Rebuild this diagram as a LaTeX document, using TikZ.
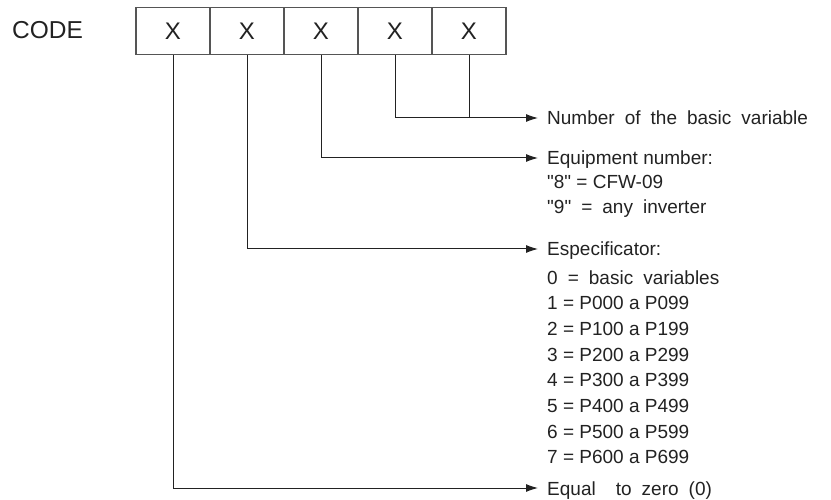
\documentclass[tikz,border=0pt]{standalone}
\usepackage{fontspec}
\setmainfont{Liberation Sans}
\newfontfamily\widesp[WordSpace=1.9]{Liberation Sans}
\newfontfamily\plainf[Scale=0.999]{Liberation Sans}
\usetikzlibrary{arrows.meta}
\definecolor{ink}{HTML}{222222}
\definecolor{boxline}{HTML}{555555}
\begin{document}
\begin{tikzpicture}[x=1pt,y=-1pt,
  cell/.style={draw=boxline,line width=1.5pt,minimum width=74pt,minimum height=47pt,inner sep=0pt,font=\fontsize{24}{28}\selectfont,text=ink},
  desc/.style={anchor=base west,inner sep=0pt,font=\fontsize{19}{23}\selectfont,text=ink},
  conn/.style={draw=ink,line width=1pt},
  arr/.style={conn,-{Latex[length=12pt,width=8pt]}}]
\useasboundingbox (0,0) rectangle (831,500);
\node[anchor=west,inner sep=0pt,font=\fontsize{24.5}{28}\selectfont,text=ink] (code) at (12,30.5) {CODE};
\node[cell] (b1) at (173,30.8) {X};
\node[cell] (b2) at (247,30.8) {X};
\node[cell] (b3) at (321,30.8) {X};
\node[cell] (b4) at (395,30.8) {X};
\node[cell] (b5) at (469,30.8) {X};
\coordinate (e1) at (538,118);
\coordinate (e2) at (538,158);
\coordinate (e3) at (538,249);
\coordinate (e4) at (538,488);
\draw[arr] (b4.south) |- (e1);
\draw[conn] (b5.south) -- (b5.south |- e1);
\draw[arr] (b3.south) |- (e2);
\draw[arr] (b2.south) |- (e3);
\draw[arr] (b1.south) |- (e4);
\node[desc] (t1) at (547,125) {\widesp Number of the basic variable};
\node[desc] (t2) at (547,165) {Equipment number:};
\node[desc] (t3) at (547,189) {\plainf "8" = CFW-09};
\node[desc] (t4) at (547,214) {\widesp "9" = any inverter};
\node[desc] (t5) at (547,256) {Especificator:};
\node[desc] (l0) at (547,284) {\widesp 0 = basic variables};
\node[desc] (l1) at (547,309.7) {1 = P000 a P099};
\node[desc] (l2) at (547,335.4) {2 = P100 a P199};
\node[desc] (l3) at (547,361.1) {3 = P200 a P299};
\node[desc] (l4) at (547,386.8) {4 = P300 a P399};
\node[desc] (l5) at (547,412.5) {5 = P400 a P499};
\node[desc] (l6) at (547,438.2) {6 = P500 a P599};
\node[desc] (l7) at (547,463.9) {7 = P600 a P699};
\node[desc] (t6) at (547,495) {\widesp Equal\ \ to zero (0)};
\end{tikzpicture}
\end{document}
